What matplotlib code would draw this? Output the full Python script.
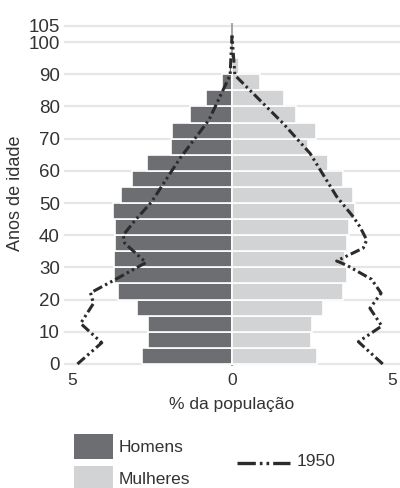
import matplotlib
matplotlib.use("Agg")
import matplotlib.pyplot as plt
from matplotlib.patches import Rectangle
from matplotlib.lines import Line2D

plt.rcParams['font.family'] = ['Liberation Sans', 'DejaVu Sans']

# Age groups (start of 5-year group)
age_groups = [0, 5, 10, 15, 20, 25, 30, 35, 40, 45, 50, 55, 60, 65, 70, 75, 80, 85, 90]
homens = [2.80, 2.61, 2.64, 2.96, 3.55, 3.69, 3.69, 3.66, 3.65, 3.71, 3.48, 3.125,
          2.65, 1.92, 1.89, 1.30, 0.81, 0.32, 0.10]
mulheres = [2.65, 2.47, 2.49, 2.83, 3.46, 3.60, 3.53, 3.58, 3.66, 3.84, 3.77, 3.48,
            3.01, 2.385, 2.625, 1.99, 1.625, 0.875, 0.23]

# 1950 profile
h1950_ages = [0, 6.6, 12.6, 18.8, 22.1, 25.9, 31.5, 37.5, 40, 44, 50.4, 63.9, 75.8, 89.7, 102]
h1950_vals = [4.83, 4.07, 4.73, 4.33, 4.42, 3.71, 2.69, 3.35, 3.40, 3.08, 2.51, 1.625, 0.72, 0.06, 0.0]
m1950_ages = [0, 6.9, 11.8, 17.3, 22, 26.3, 30.7, 32, 36, 38.5, 42.6, 45.7, 52, 65.4, 74.7, 89.7, 102]
m1950_vals = [4.71, 3.95, 4.68, 4.31, 4.66, 4.36, 3.58, 3.27, 4.10, 4.21, 4.0, 3.79, 3.27, 2.44, 1.60, 0.09, 0.0]

yticks = [0, 10, 20, 30, 40, 50, 60, 70, 80, 90, 100, 105]
xticks = [-5, 0, 5]
xticklabels = ['5', '0', '5']

c_h = '#6d6e71'
c_m = '#d1d3d4'
c_line = '#2b2b2b'
ls_1950 = (0, (3.2, 1.1, 0.8, 1.1, 0.8, 1.1))

W, H = 400, 488
fig = plt.figure(figsize=(W / 100, H / 100), dpi=100)
ax = fig.add_axes([64 / W, 1 - 365.6 / H, 336 / W, (365.6 - 22.7) / H])

ax.set_xlim(-5.25, 5.25)
ax.set_ylim(-0.5, 106)

ax.axvline(0, color='#a8a8a8', lw=1.5, zorder=1)
ax.barh(age_groups, [-v for v in homens], height=5, align='edge', color=c_h,
        edgecolor='white', linewidth=1.2, zorder=2)
ax.barh(age_groups, mulheres, height=5, align='edge', color=c_m,
        edgecolor='white', linewidth=1.2, zorder=2)

ax.plot([-v for v in h1950_vals], h1950_ages, color=c_line, lw=2.2, linestyle=ls_1950, zorder=3)
ax.plot(m1950_vals, m1950_ages, color=c_line, lw=2.2, linestyle=ls_1950, zorder=3)

ax.set_yticks(yticks)
ax.set_yticklabels([str(t) for t in yticks], fontsize=13.5, color='#333333')
ax.set_xticks(xticks)
ax.set_xticklabels(xticklabels, fontsize=12.5, color='#333333')
ax.tick_params(axis='both', length=0)
ax.tick_params(axis='y', pad=3)
ax.tick_params(axis='x', pad=5)
ax.grid(axis='y', color='#e6e6e6', lw=1.6, zorder=0)
ax.set_axisbelow(True)
for s in ax.spines.values():
    s.set_visible(False)

def fx(px):
    return px / W

def fy(py):
    return 1 - py / H

fig.text(fx(232), fy(404), '% da população', ha='center', va='center', fontsize=12.5, color='#333333')
fig.text(fx(15.5), fy(193.5), 'Anos de idade', ha='center', va='center', rotation=90,
         fontsize=13, color='#333333')

# legend
fig.add_artist(Rectangle((fx(74), fy(459)), fx(39), 25 / H, facecolor=c_h, edgecolor='none',
                         transform=fig.transFigure))
fig.add_artist(Rectangle((fx(74), fy(491)), fx(39), 25 / H, facecolor=c_m, edgecolor='none',
                         transform=fig.transFigure))
fig.text(fx(119), fy(448), 'Homens', ha='left', va='center', fontsize=12.5, color='#333333')
fig.text(fx(119), fy(479.5), 'Mulheres', ha='left', va='center', fontsize=12.5, color='#333333')
fig.add_artist(Line2D([fx(237), fx(290)], [fy(462.7), fy(462.7)], color=c_line, lw=2.4,
                      linestyle=(0, (5.5, 1.2, 0.8, 1.2, 0.8, 1.2)), transform=fig.transFigure))
fig.text(fx(297), fy(462), '1950', ha='left', va='center', fontsize=12.5, color='#333333')

fig.savefig('out.png', dpi=100, facecolor='white')
